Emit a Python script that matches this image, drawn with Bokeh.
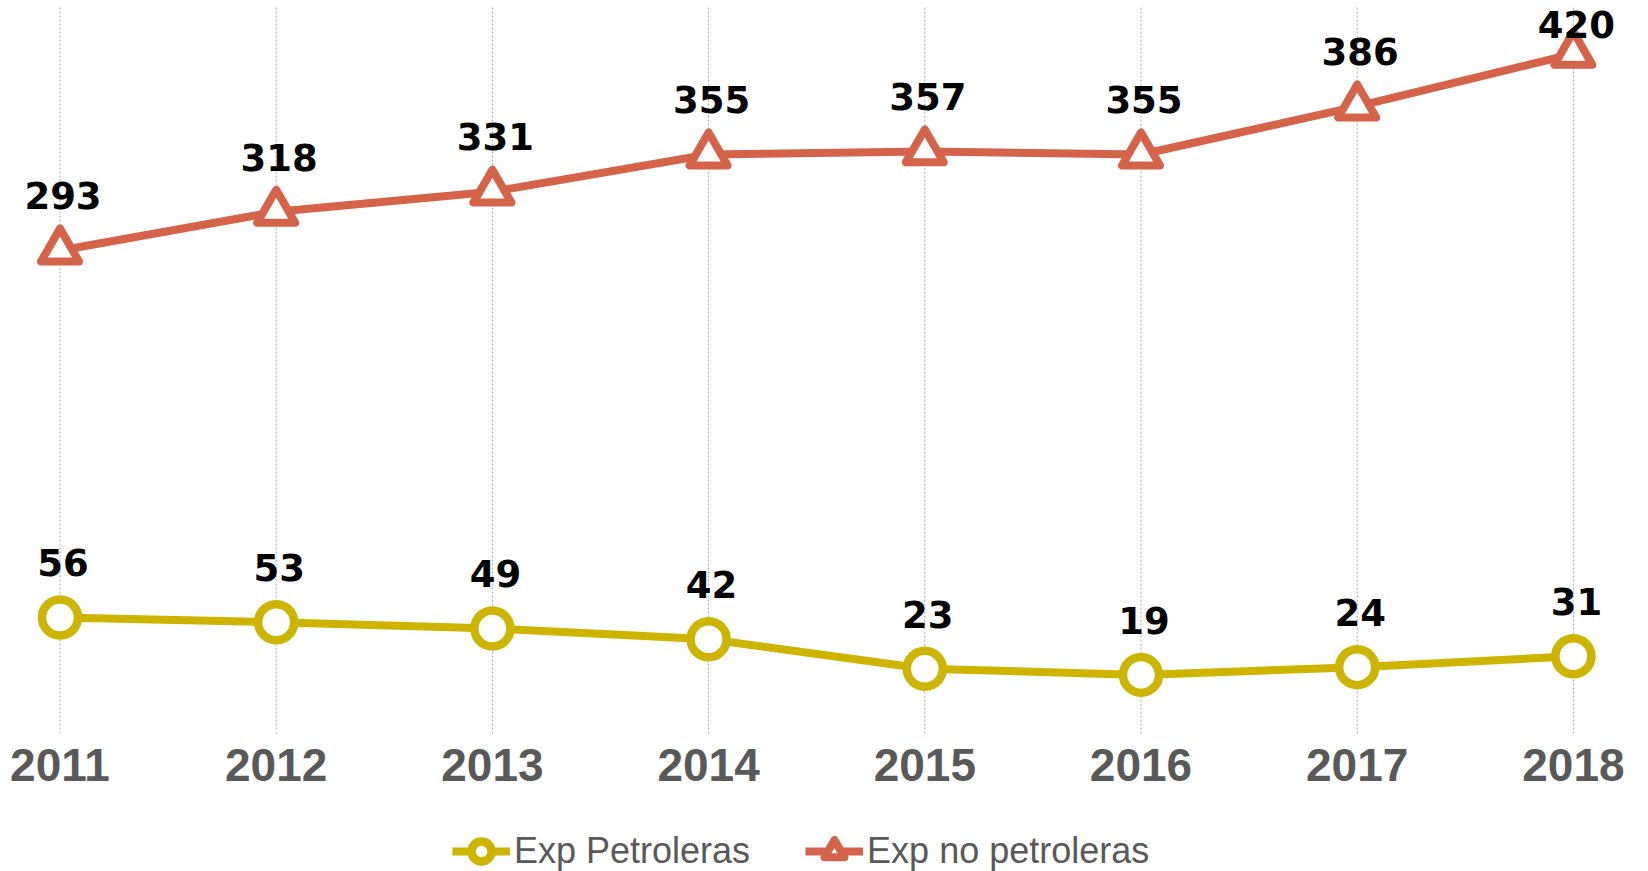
from bokeh.plotting import figure
from bokeh.models import Range1d, Legend, LegendItem, ColumnDataSource
from bokeh.embed import file_html
from bokeh.resources import INLINE

# ---- data ----
years = [2011, 2012, 2013, 2014, 2015, 2016, 2017, 2018]
year_labels = ["2011", "2012", "2013", "2014", "2015", "2016", "2017", "2018"]
exp_petroleras = [56, 53, 49, 42, 23, 19, 24, 31]
exp_no_petroleras = [293, 318, 331, 355, 357, 355, 386, 420]
series_names = ["Exp Petroleras", "Exp no petroleras"]

# ---- style / layout ----
YELLOW = "#CCB400"
ORANGE = "#D4634A"
GREY = "#595959"

X0, X1 = 2010.7248, 2018.3474
Y0, Y1 = -107.95, 454.42
GRID_BOTTOM, GRID_TOP = -18.9, 449.9   # plot area (where the category gridlines run)
YEAR_LABEL_Y = -38.9                   # baseline of the category labels
LABEL_OFF = 35.3                       # data labels: offset above the point
LABEL_MAX = 438.9                      # keep data labels inside the chart top

p = figure(width=1648, height=871, output_backend="svg", toolbar_location=None,
           x_range=Range1d(X0, X1), y_range=Range1d(Y0, Y1),
           x_axis_location=None, y_axis_location=None,
           min_border=0, outline_line_color=None,
           background_fill_color="white", border_fill_color="white")
p.grid.visible = False

# category gridlines (dotted)
p.segment(x0=years, y0=[GRID_BOTTOM] * len(years), x1=years, y1=[GRID_TOP] * len(years),
          line_color="#A6A6A6", line_dash="2 2", line_width=1)

# category labels
p.text(x=years, y=[YEAR_LABEL_Y] * len(years), text=year_labels, text_align="center",
       text_baseline="alphabetic", text_font={"value": "Liberation Sans"},
       text_font_style="bold", text_font_size="46px", text_color=GREY)


def label_y(vals):
    return [min(v + LABEL_OFF, LABEL_MAX) for v in vals]


src_pet = ColumnDataSource(dict(x=years, y=exp_petroleras, ly=label_y(exp_petroleras),
                                t=[str(v) for v in exp_petroleras]))
src_no = ColumnDataSource(dict(x=years, y=exp_no_petroleras, ly=label_y(exp_no_petroleras),
                               t=[str(v) for v in exp_no_petroleras]))

l_pet = p.line("x", "y", source=src_pet, line_color=YELLOW, line_width=8, line_join="round")
l_no = p.line("x", "y", source=src_no, line_color=ORANGE, line_width=8, line_join="round")
m_pet = p.scatter("x", "y", source=src_pet, marker="circle", size=36, fill_color="white",
                  line_color=YELLOW, line_width=8.5)
m_no = p.scatter("x", "y", source=src_no, marker="triangle", size=38, fill_color="white",
                 line_color=ORANGE, line_width=8, line_join="round")

for src in (src_pet, src_no):
    p.text("x", "ly", text="t", source=src, text_align="center", text_baseline="alphabetic",
           x_offset=3, text_font={"value": "DejaVu Sans"}, text_font_style="bold",
           text_font_size="37px", text_color="black")

legend = Legend(items=[LegendItem(label=series_names[0], renderers=[l_pet, m_pet]),
                       LegendItem(label=series_names[1], renderers=[l_no, m_no])],
                orientation="horizontal", location=(452, -5),
                padding=0, margin=0, spacing=55, glyph_width=58, glyph_height=50,
                label_height=50, label_standoff=4,
                label_text_font="Liberation Sans", label_text_font_size="36px",
                label_text_color=GREY, background_fill_alpha=0, border_line_alpha=0)
p.add_layout(legend)

open("out.html", "w").write(file_html(p, INLINE))
